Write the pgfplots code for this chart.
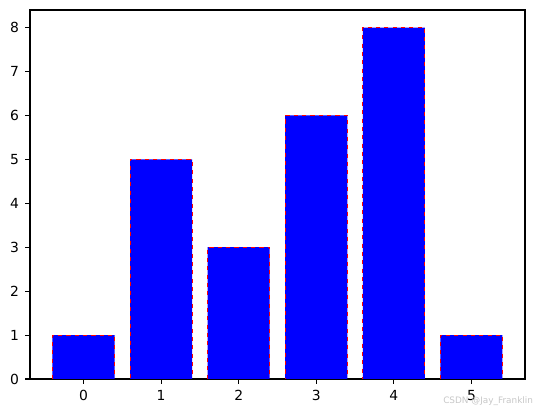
\documentclass[border=0pt]{standalone}
\usepackage{pgfplots}
\pgfplotsset{compat=1.18}
\usetikzlibrary{calc}
\usepackage{fontspec}
\setmainfont{DejaVu Sans}
\begin{document}
\begin{tikzpicture}
\begin{axis}[
  scale only axis,
  width=356.4pt, height=265.7pt,
  xmin=-0.69, xmax=5.69,
  ymin=0, ymax=8.4,
  xtick={0,1,2,3,4,5},
  ytick={0,1,2,3,4,5,6,7,8},
  tick align=outside,
  major tick length=3.5pt,
  tick style={black, line width=0.8pt},
  axis line style={line width=0.8pt},
  xtick pos=bottom, ytick pos=left,
  tick label style={font=\fontsize{10}{12}\selectfont},
  /pgf/number format/assume math mode=true,
  xticklabel style={yshift=-1pt},
  yticklabel style={xshift=-1pt},
]
\addplot[ybar, bar width=0.8, fill=blue, draw=red, dashed, line width=0.7pt]
  coordinates {(0,1) (1,5) (2,3) (3,6) (4,8) (5,1)};
\end{axis}
\path (current axis.south west) ++(-21.6pt,-24.5pt) coordinate (bl);
\path (current axis.north east) ++(6.5pt,7.2pt) coordinate (tr);
\useasboundingbox (bl) rectangle (tr);
\node[anchor=base east, font=\fontsize{6.4}{7}\selectfont, text=black!22, inner sep=0pt] at ($(bl -| tr)+(-0.5pt,6.5pt)$) {CSDN @Jay\_Franklin};
\end{tikzpicture}
\end{document}
